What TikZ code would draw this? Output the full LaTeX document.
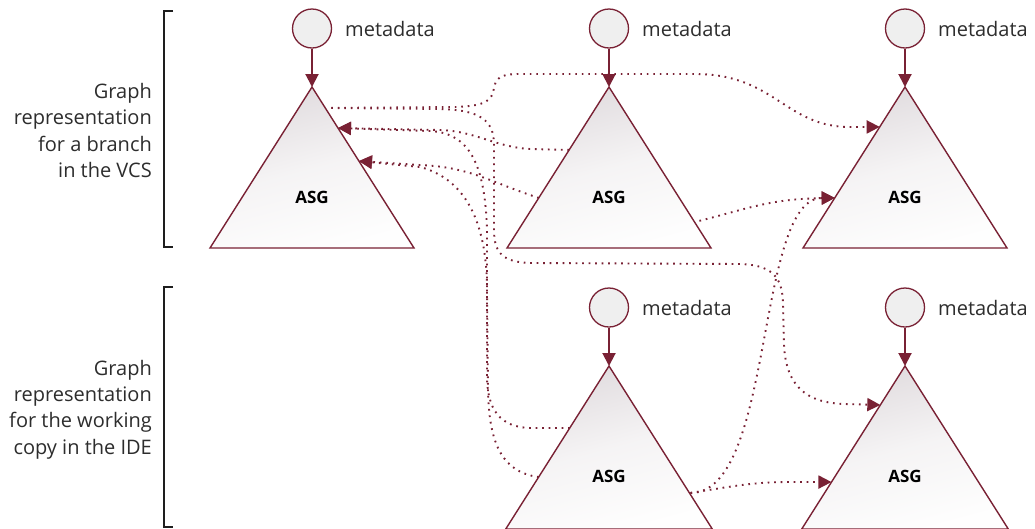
\documentclass[tikz,border=0pt]{standalone}
\usepackage{fontspec}
\setmainfont{Open Sans}
\usetikzlibrary{arrows.meta,calc}

\definecolor{asgred}{RGB}{121,33,52}
\definecolor{asgtop}{RGB}{224,219,222}
\definecolor{asgbot}{RGB}{254,254,254}
\definecolor{metafill}{RGB}{239,239,239}
\definecolor{textgray}{RGB}{45,45,45}
\definecolor{bracegray}{RGB}{30,30,30}

\tikzset{
  tri/.style={draw=asgred, line width=1.4pt, line join=miter,
    top color=asgtop, bottom color=asgbot, middle color=asgtop!30!asgbot,
    shading angle=15},
  meta/.style={circle, draw=asgred, line width=1.3pt, fill=metafill,
    minimum size=39pt, inner sep=0pt},
  metalabel/.style={anchor=west, inner sep=0pt, text=textgray,
    font=\fontsize{20}{24}\selectfont},
  asglabel/.style={inner sep=0pt, font=\fontsize{17}{20}\selectfont\bfseries},
  feed/.style={draw=asgred, line width=2pt, -{Triangle[length=13pt,width=13pt]}},
  link/.style={draw=asgred, line width=1.9pt, dash pattern=on 1.7pt off 4.8pt},
  linkto/.style={link, -{Triangle[length=13pt,width=13pt]}},
  side/.style={anchor=east, align=right, inner sep=0pt, text=textgray,
    font=\fontsize{20}{26.3}\selectfont},
  brace/.style={draw=bracegray, line width=1.4pt},
}

% one abstract syntax graph: triangle, ASG label, metadata node
% #1 name, #2/#3 apex, #4 height
\newcommand\asgunit[4]{%
  \coordinate (#1-top) at (#2,#3);
  \coordinate (#1-l) at ($(#1-top)+(-0.6335*#4,#4)$);
  \coordinate (#1-r) at ($(#1-top)+(0.6335*#4,#4)$);
  \path[tri] (#1-top) -- (#1-r) -- (#1-l) -- cycle;
  \node[asglabel] (#1-lbl) at ($(#1-top)+(0,110)$) {ASG};
  \node[meta] (#1-md) at ($(#1-top)+(0,-58.5)$) {};
  \node[metalabel] (#1-mdl) at ($(#1-md)+(33,0)$) {metadata};
  \draw[feed] (#1-md) -- (#1-top);
}

\begin{document}
\begin{tikzpicture}[x=1pt,y=-1pt]
  \useasboundingbox[fill=white] (0,0) rectangle (1035,528);

  % group brackets and their captions
  \draw[brace] (173,11) -- (164,11) -- (164,247) -- (173,247);
  \draw[brace] (173,287) -- (164,287) -- (164,527) -- (173,527);
  \node[side] (vcs) at (152,130.5) {Graph\\representation\\for a branch\\in the VCS};
  \node[side] (ide) at (152,409.5) {Graph\\representation\\for the working\\copy in the IDE};

  % branch graphs (top) and working-copy graphs (bottom)
  \asgunit{t1}{312}{87}{161}
  \asgunit{t2}{609}{87}{161}
  \asgunit{t3}{905}{87}{161}
  \asgunit{t4}{609}{366}{163}
  \asgunit{t5}{905}{366}{163}

  % connection points on the triangle sides
  \coordinate (t1-o) at ($(t1-top)!0.130!(t1-r)$);
  \coordinate (t1-a) at ($(t1-top)!0.255!(t1-r)$);
  \coordinate (t1-b) at ($(t1-top)!0.460!(t1-r)$);
  \coordinate (t2-a) at ($(t2-top)!0.391!(t2-l)$);
  \coordinate (t2-b) at ($(t2-top)!0.689!(t2-l)$);
  \coordinate (t2-c) at ($(t2-top)!0.839!(t2-r)$);
  \coordinate (t3-a) at ($(t3-top)!0.248!(t3-l)$);
  \coordinate (t3-b) at ($(t3-top)!0.689!(t3-l)$);
  \coordinate (t4-a) at ($(t4-top)!0.380!(t4-l)$);
  \coordinate (t4-b) at ($(t4-top)!0.681!(t4-l)$);
  \coordinate (t4-c) at ($(t4-top)!0.779!(t4-r)$);
  \coordinate (t5-a) at ($(t5-top)!0.239!(t5-l)$);
  \coordinate (t5-b) at ($(t5-top)!0.712!(t5-l)$);

  % dotted correspondences
  \draw[linkto, shorten <=6pt] (t1-o) -- (440,109)
    .. controls (480,110) and (494,120) .. (494,145) -- (494,230)
    .. controls (494,255) and (505,262) .. (530,263) -- (740,264)
    .. controls (770,265) and (783,275) .. (783,305) -- (784,345)
    .. controls (786,385) and (805,403) .. (845,404) -- (t5-a);
  \draw[linkto, shorten <=6pt] (t1-o) -- (455,107)
    .. controls (487,106) and (492,100) .. (494,88)
    .. controls (496,77) and (502,74) .. (520,74) -- (695,74)
    .. controls (775,74) and (785,127) .. (850,127) -- (t3-a);
  \draw[linkto] (t2-a) -- (530,149)
    .. controls (495,147) and (475,131) .. (440,130) -- (t1-a);
  \draw[linkto] (t4-a) -- (530,428)
    .. controls (500,427) and (487,410) .. (487,375) -- (487,230)
    .. controls (485,165) and (470,133) .. (430,131) -- (t1-a);
  \draw[linkto] (t2-b)
    .. controls (490,182) and (470,167) .. (420,165) -- (t1-b);
  \draw[linkto] (t4-b)
    .. controls (500,472) and (489,440) .. (488,390) -- (487,290)
    .. controls (487,230) and (470,180) .. (420,167) -- (t1-b);
  \draw[linkto, shorten <=5pt] (t2-c)
    .. controls (750,208) and (770,199) .. (t3-b);
  \draw[linkto, shorten <=1pt] (t4-c)
    .. controls (775,493) and (755,198) .. (t3-b);
  \draw[linkto, shorten <=1pt] (t4-c)
    .. controls (730,487) and (750,482) .. (790,482) -- (t5-b);
\end{tikzpicture}
\end{document}
